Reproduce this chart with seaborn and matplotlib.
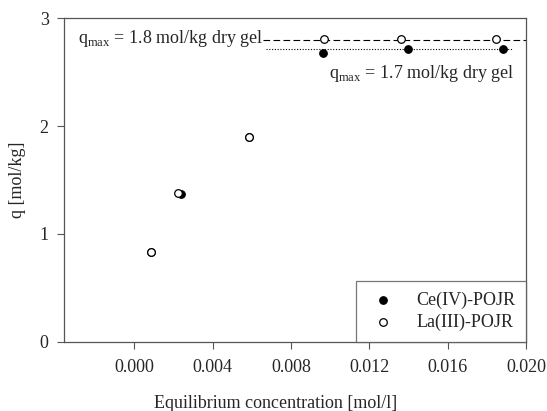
import numpy as np
import pandas as pd
import matplotlib
matplotlib.use("Agg")
import matplotlib.pyplot as plt
import seaborn as sns

# dane
ce_conc = [0.00082, 0.00236, 0.00585, 0.00964, 0.01395, 0.01882]
ce_q = [0.836, 1.375, 1.90, 2.68, 2.71, 2.71]
la_conc = [0.00082, 0.0022, 0.00585, 0.00969, 0.01359, 0.01846]
la_q = [0.836, 1.38, 1.90, 2.81, 2.81, 2.81]
qmax_la = 2.8
qmax_ce = 2.71
x_ticks = [0.000, 0.004, 0.008, 0.012, 0.016, 0.020]
y_ticks = [0, 1, 2, 3]

sns.set_style("ticks")
plt.rcParams['font.family'] = ['Liberation Serif', 'DejaVu Serif']
plt.rcParams['mathtext.fontset'] = 'custom'
plt.rcParams['mathtext.rm'] = 'Liberation Serif'

df = pd.DataFrame({
    "conc": ce_conc + la_conc,
    "q": ce_q + la_q,
    "series": ["Ce(IV)-POJR"] * len(ce_conc) + ["La(III)-POJR"] * len(la_conc),
})

fig = plt.figure(figsize=(5.47, 4.11), dpi=100)
ax = fig.add_axes([0.117, 0.168, 0.8446, 0.788])

ax.plot([0.00656, 0.0208], [qmax_la, qmax_la], color="black", linestyle=(0, (6, 3)), linewidth=0.8, zorder=1)
ax.plot([0.0067, 0.0193], [qmax_ce, qmax_ce], color="black", linestyle=(0, (1, 1.5)), linewidth=0.8, zorder=1)

sns.scatterplot(data=df[df.series == "Ce(IV)-POJR"], x="conc", y="q", ax=ax,
                color="black", edgecolor="black", s=30, linewidth=0.8,
                label="Ce(IV)-POJR", zorder=3)
sns.scatterplot(data=df[df.series == "La(III)-POJR"], x="conc", y="q", ax=ax,
                color="white", edgecolor="black", s=30, linewidth=0.9,
                label="La(III)-POJR", zorder=4)

ax.text(0.00655, 2.81, r"q$_{\mathrm{max}}$ = 1.8 mol/kg dry gel", ha="right", va="center", fontsize=13)
ax.text(0.0194, 2.49, r"q$_{\mathrm{max}}$ = 1.7 mol/kg dry gel", ha="right", va="center", fontsize=13)

ax.set_xlim(-0.0036, 0.020)
ax.set_ylim(0, 3)
ax.set_xticks(x_ticks)
ax.set_xticklabels([f"{v:.3f}" for v in x_ticks], fontsize=13)
ax.set_yticks(y_ticks)
ax.set_yticklabels([str(v) for v in y_ticks], fontsize=13)
ax.tick_params(direction="out", length=5, width=0.8, color="#555555")
ax.tick_params(axis="x", pad=7)
ax.tick_params(axis="y", pad=6)
ax.set_xlabel("Equilibrium concentration [mol/l]", fontsize=13)
ax.xaxis.set_label_coords(0.457, -0.165)
ax.set_ylabel("q [mol/kg]", fontsize=13, labelpad=10)
for sp in ax.spines.values():
    sp.set_visible(True)
    sp.set_color("#555555")
    sp.set_linewidth(0.9)

leg = ax.legend(loc="lower right", borderaxespad=0, fontsize=13, frameon=True,
                fancybox=False, edgecolor="#555555", handletextpad=1.0,
                borderpad=0.6, labelspacing=0.25, handlelength=1.7)
leg.get_frame().set_linewidth(0.9)

fig.savefig("out.png", dpi=100)
